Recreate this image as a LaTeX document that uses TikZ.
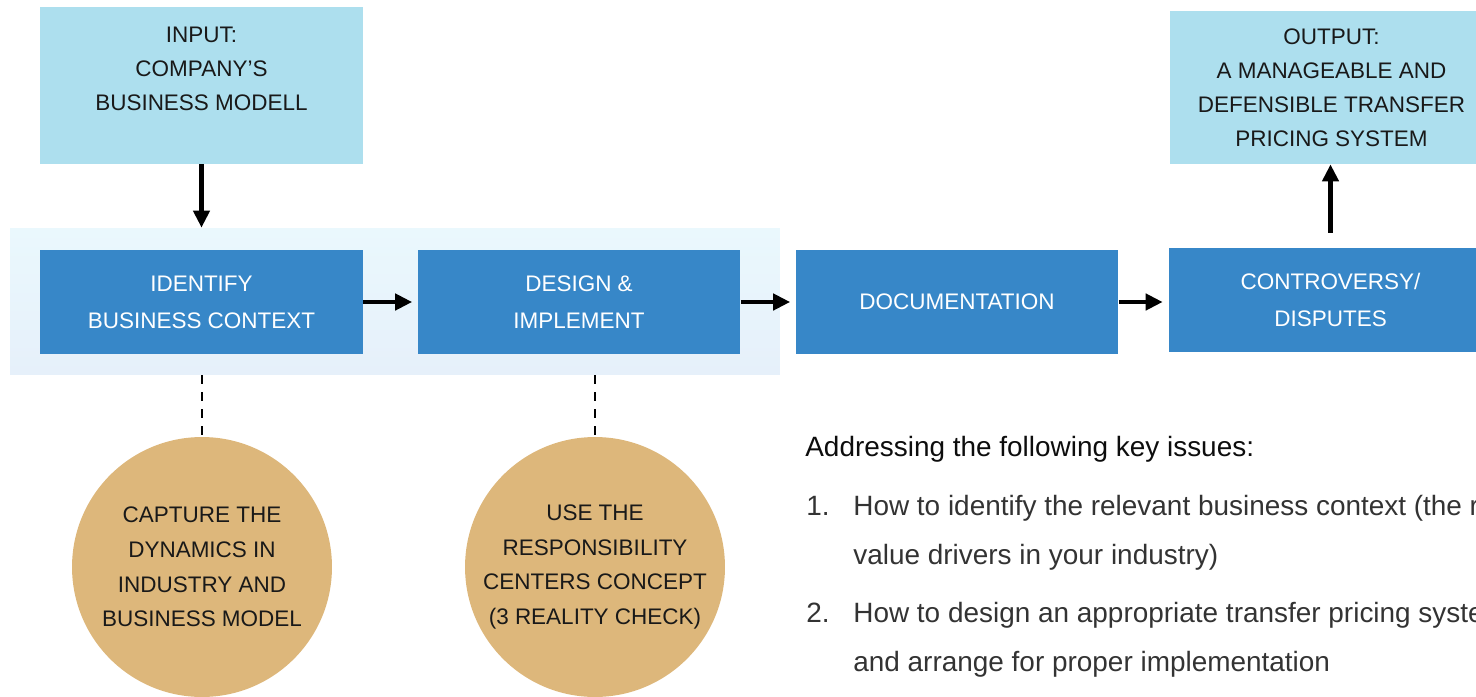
\documentclass[tikz,border=0pt]{standalone}
\usepackage{fontspec}
\setmainfont{Liberation Sans}
\usepackage{color}
\usepackage{tikz}
\usetikzlibrary{arrows.meta}

\definecolor{ioblue}{RGB}{173,223,238}
\definecolor{stageblue}{RGB}{55,135,200}
\definecolor{sand}{RGB}{221,183,123}
\definecolor{bandtop}{RGB}{234,248,253}
\definecolor{bandbot}{RGB}{230,240,250}

\begin{document}
\begin{tikzpicture}[x=0.02cm,y=-0.02cm,
        iobox/.style={fill=ioblue, minimum width=6.46cm, align=center, text=black!90, font=\fontsize{12.8}{19.3}\selectfont},
        stage/.style={fill=stageblue, minimum width=6.46cm, minimum height=2.08cm, align=center, text=white, font=\fontsize{12.8}{21}\selectfont},
        bubble/.style={circle, fill=sand, minimum size=5.2cm, inner sep=0pt, align=center, text=black!90, font=\fontsize{12.8}{19.8}\selectfont},
        flow/.style={-{Triangle[length=0.34cm,width=0.32cm]}, line width=0.085cm},
        link/.style={line width=0.05cm, dash pattern=on 0.18cm off 0.16cm},
        listtext/.style={anchor=base west, inner sep=0pt, text=black!80, font=\fontsize{15.9}{28}\selectfont}]
        \useasboundingbox (0,0) rectangle (1476,696);
        \clip (0,0) rectangle (1476,696);

        % shaded band behind the first two stages
        \node[minimum width=15.4cm, minimum height=2.94cm, inner sep=0pt, top color=bandtop, bottom color=bandbot] (band) at (395,301.5) {};

        \node[iobox, minimum height=3.14cm] (in) at (201.5,85.5) {INPUT:\\COMPANY’S\\BUSINESS MODELL\\ ~};
        \node[iobox, minimum height=3.06cm] (out) at (1331.5,87.5) {OUTPUT:\\A MANAGEABLE AND\\DEFENSIBLE TRANSFER\\PRICING SYSTEM};

        \node[stage] (ident) at (201.5,302) {IDENTIFY\\BUSINESS CONTEXT};
        \node[stage] (design) at (579,302) {DESIGN \&\\IMPLEMENT};
        \node[stage] (doc) at (957,302) {DOCUMENTATION};
        \node[stage] (contro) at (1330.5,300) {CONTROVERSY/\\DISPUTES};

        \node[bubble] (dyn) at (202,567) {CAPTURE THE\\DYNAMICS IN\\INDUSTRY AND\\BUSINESS MODEL};
        \node[bubble] (resp) at (595,567) {USE THE\\RESPONSIBILITY\\CENTERS CONCEPT\\(3 REALITY CHECK)};

        \draw[flow] (in.south) -- (in.south |- band.north);
        \draw[flow, shorten >=0.1cm] (ident) -- (design);
        \draw[flow, shorten >=0.1cm] (design) -- (doc);
        \draw[flow, shorten >=0.12cm] (doc.east) -- (doc.east -| contro.west);
        \draw[flow, shorten <=0.3cm] (contro.north) -- (contro.north |- out.south);

        \draw[link] (dyn.north |- band.south) -- (dyn.north);
        \draw[link] (resp.north |- band.south) -- (resp.north);

        % key issues
        \node[anchor=base west, inner sep=0pt, text=black!95, font=\fontsize{15.9}{28}\selectfont] (head) at (805,456) {Addressing the following key issues:};
        \node[listtext] (n1) at (806,515) {1.};
        \node[listtext] (i1a) at (853,515) {How to identify the relevant business context (the real};
        \node[listtext] (i1b) at (853,564) {value drivers in your industry)};
        \node[listtext] (n2) at (806,622) {2.};
        \node[listtext] (i2a) at (853,622) {How to design an appropriate transfer pricing system};
        \node[listtext] (i2b) at (853,671) {and arrange for proper implementation};
    \end{tikzpicture}
\end{document}
